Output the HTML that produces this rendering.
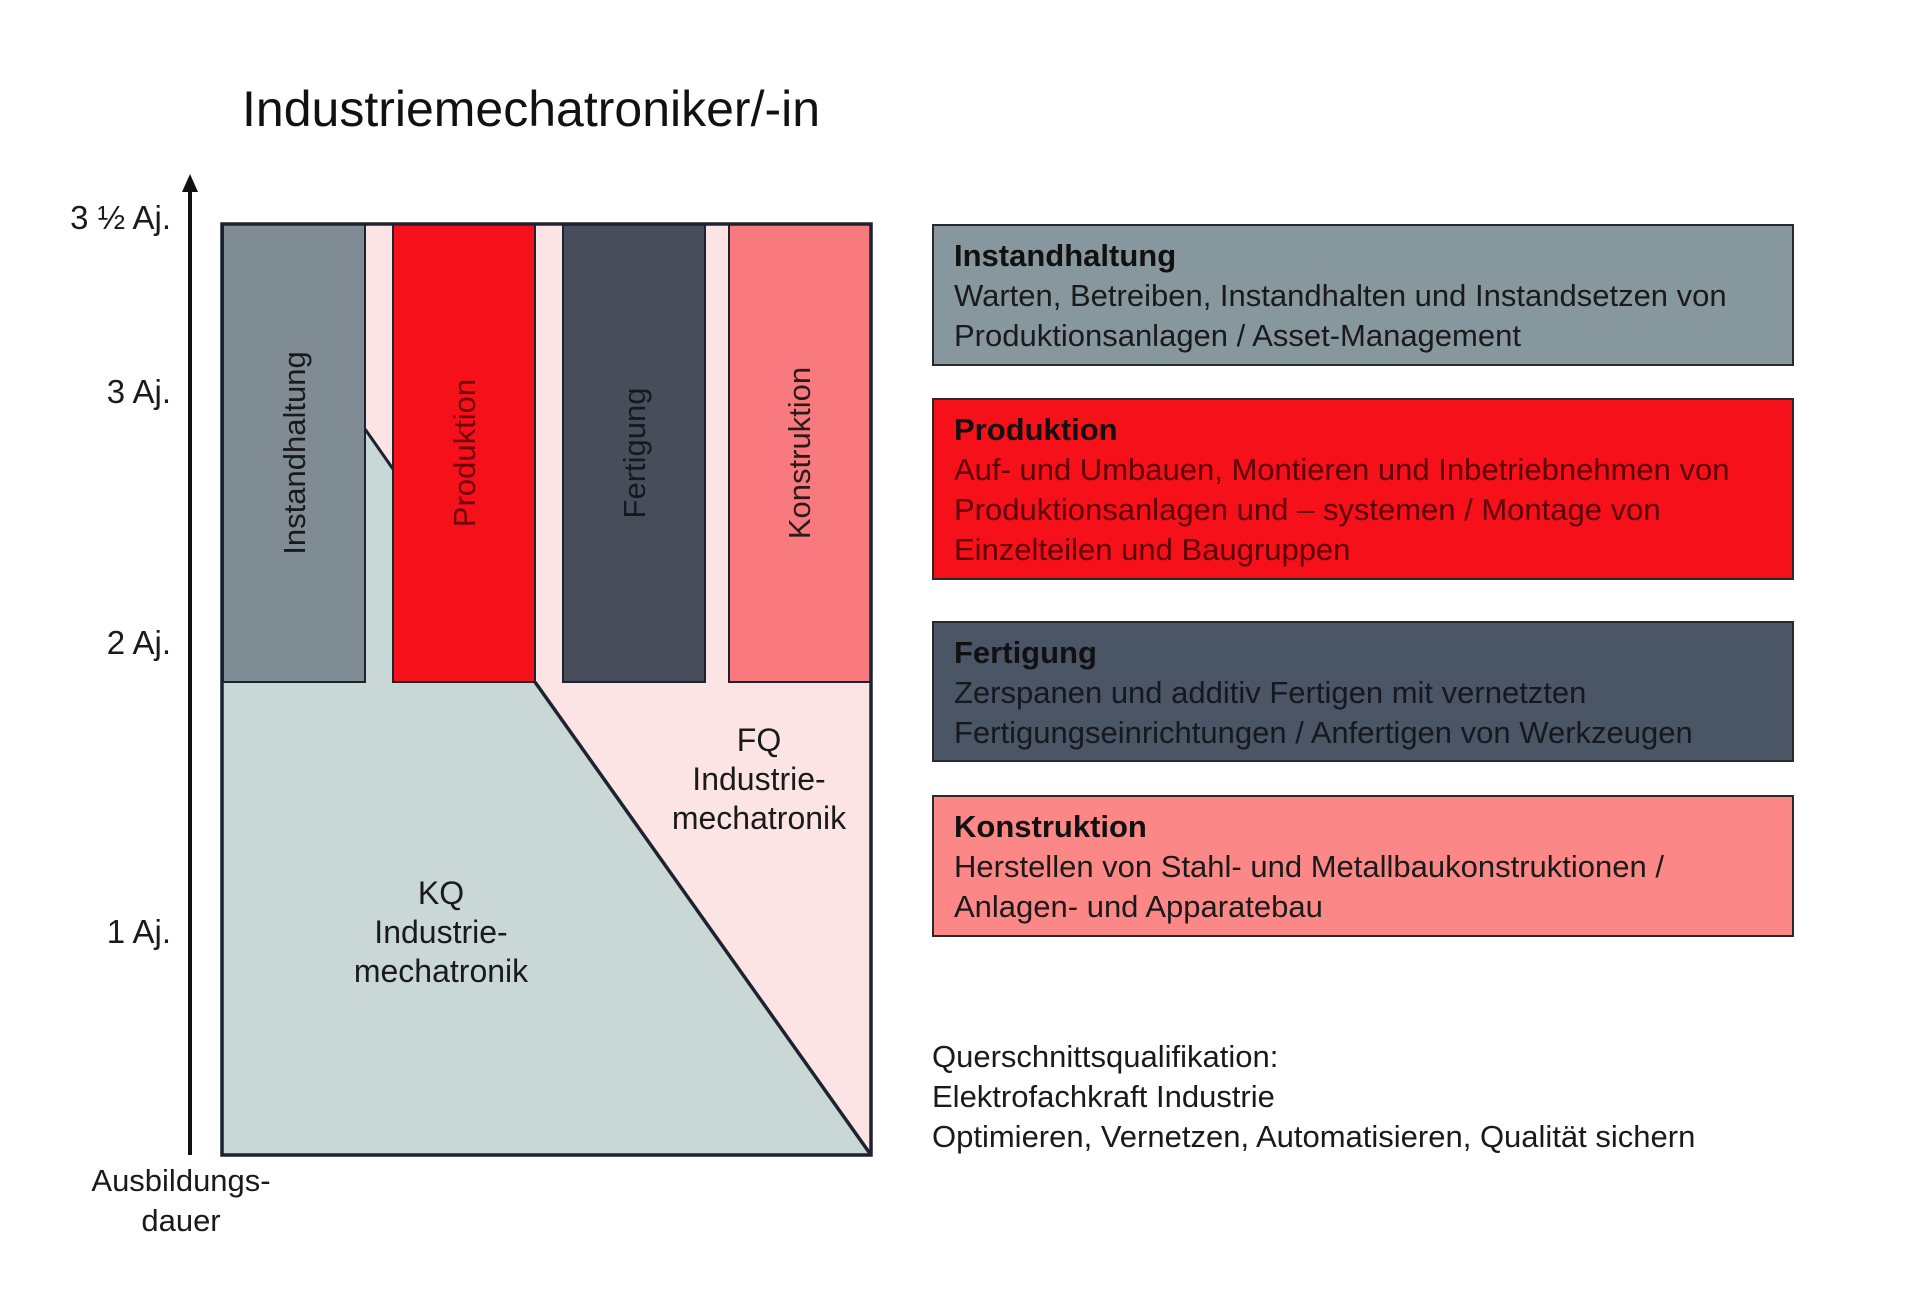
<!DOCTYPE html>
<html><head><meta charset="utf-8"><style>
html,body{margin:0;padding:0;background:#fff;}
body{width:1920px;height:1298px;position:relative;overflow:hidden;font-family:"Liberation Sans",sans-serif;color:#1a1a1a;}
.a{position:absolute;white-space:nowrap;}
.box{position:absolute;left:932px;width:862px;border:2px solid #2a2a2a;box-sizing:border-box;padding:10px 0 0 20px;font-size:31px;line-height:40px;}
.box b{display:block;color:#111;}
.yl{position:absolute;right:1749px;font-size:33px;}
</style></head><body>
<div class="a" style="left:242px;top:80px;font-size:50px;color:#111;">Industriemechatroniker/-in</div>

<svg class="a" style="left:0;top:0" width="1920" height="1298">
<rect x="222" y="224" width="649" height="931" fill="#fde4e4"/>
<polygon points="222,682 365,682 365,429 393,469 393,682 535,682 871,1155 222,1155" fill="#c9d8d5"/>
<line x1="365" y1="429" x2="393" y2="469" stroke="#1c2230" stroke-width="3"/>
<line x1="535" y1="682" x2="871" y2="1155" stroke="#1c2230" stroke-width="3.5"/>
<rect x="223" y="224" width="142" height="458" fill="#7f8c94" stroke="#1c2230" stroke-width="2"/>
<rect x="393" y="224" width="142" height="458" fill="#f5101a" stroke="#1c2230" stroke-width="2"/>
<rect x="563" y="224" width="142" height="458" fill="#474d5a" stroke="#1c2230" stroke-width="2"/>
<rect x="729" y="224" width="142" height="458" fill="#f87a7e" stroke="#1c2230" stroke-width="2"/>
<rect x="222" y="224" width="649" height="931" fill="none" stroke="#1c2230" stroke-width="3.5"/>
<line x1="190" y1="1155" x2="190" y2="190" stroke="#111" stroke-width="4"/>
<polygon points="190,174 182,192 198,192" fill="#111"/>
<g font-family="Liberation Sans, sans-serif" font-size="31" text-anchor="middle">
<text transform="translate(305,453) rotate(-90)" fill="#1a1a1a">Instandhaltung</text>
<text transform="translate(475,453) rotate(-90)" fill="#6e0008">Produktion</text>
<text transform="translate(645,453) rotate(-90)" fill="#16181e">Fertigung</text>
<text transform="translate(810,453) rotate(-90)" fill="#2a1a1a">Konstruktion</text>
</g>
<g font-family="Liberation Sans, sans-serif" font-size="32" text-anchor="middle" fill="#1a1a1a">
<text x="759" y="751">FQ</text>
<text x="759" y="790">Industrie-</text>
<text x="759" y="829">mechatronik</text>
<text x="441" y="904">KQ</text>
<text x="441" y="943">Industrie-</text>
<text x="441" y="982">mechatronik</text>
</g>
<g font-family="Liberation Sans, sans-serif" font-size="31" text-anchor="middle" fill="#1a1a1a">
<text x="181" y="1191">Ausbildungs-</text>
<text x="181" y="1231">dauer</text>
</g>
</svg>

<div class="yl" style="top:199px;">3 ½ Aj.</div>
<div class="yl" style="top:373px;">3 Aj.</div>
<div class="yl" style="top:624px;">2 Aj.</div>
<div class="yl" style="top:913px;">1 Aj.</div>

<div class="box" style="top:224px;height:142px;background:#87979e;"><b>Instandhaltung</b>Warten, Betreiben, Instandhalten und Instandsetzen von<br>Produktionsanlagen / Asset-Management</div>
<div class="box" style="top:398px;height:182px;background:#f5101a;color:#5a0006;"><b>Produktion</b>Auf- und Umbauen, Montieren und Inbetriebnehmen von<br>Produktionsanlagen und – systemen / Montage von<br>Einzelteilen und Baugruppen</div>
<div class="box" style="top:621px;height:141px;background:#4a5565;color:#16181e;"><b>Fertigung</b>Zerspanen und additiv Fertigen mit vernetzten<br>Fertigungseinrichtungen / Anfertigen von Werkzeugen</div>
<div class="box" style="top:795px;height:142px;background:#fc8787;"><b>Konstruktion</b>Herstellen von Stahl- und Metallbaukonstruktionen /<br>Anlagen- und Apparatebau</div>

<div class="a" style="left:932px;top:1037px;font-size:31px;line-height:40px;">Querschnittsqualifikation:<br>Elektrofachkraft Industrie<br>Optimieren, Vernetzen, Automatisieren, Qualität sichern</div>
</body></html>
